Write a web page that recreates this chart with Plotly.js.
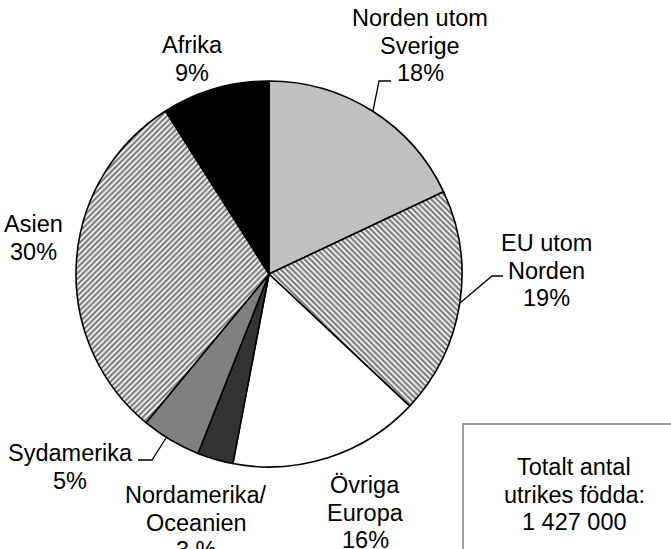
<!DOCTYPE html>
<html>
<head>
<meta charset="utf-8">
<script src="https://cdn.plot.ly/plotly-3.0.1.min.js"></script>
<style>html,body{margin:0;padding:0;background:#fff;}#chart{width:671px;height:549px;}</style>
</head>
<body>
<div id="chart"></div>
<script>
// ---- data ----
const categories = ["Norden utom Sverige", "EU utom Norden", "Övriga Europa", "Nordamerika/Oceanien", "Sydamerika", "Asien", "Afrika"];
const shares = [18, 19, 16, 3, 5, 30, 9];
const labelLines = [["Norden utom", "Sverige"], ["EU utom", "Norden"], ["Övriga", "Europa"], ["Nordamerika/", "Oceanien"], ["Sydamerika"], ["Asien"], ["Afrika"]];
const pctLabels = ["18%", "19%", "16%", "3 %", "5%", "30%", "9%"];
const totalLines = ["Totalt antal", "utrikes födda:", "1 427 000"];

// ---- style ----
const W = 671, H = 549;
const fills = ["#c0c0c0", "#ffffff", "#ffffff", "#333333", "#808080", "#ffffff", "#000000"];
const shapesPat = ["", "\\", "", "", "", "/", ""];
const FONT = "Liberation Sans, Arial, sans-serif";
const FS = 23.5;
const LINE = 27.5;
const cx = 269, cy = 274, R = 193;

const px = x => x / W;
const py = y => 1 - y / H;

// label anchor positions (center of first line), pixels
const labelPos = [[420, 18], [546, 243], [365, 485], [196, 495], [70, 453], [33, 224], [192, 45]];

const annotations = [];
function addLines(lines, x, y0) {
  lines.forEach((t, k) => {
    annotations.push({
      text: t, x: px(x), y: py(y0 + k * LINE), xref: "paper", yref: "paper",
      xanchor: "center", yanchor: "middle", showarrow: false,
      font: {family: FONT, size: FS, color: "#000"}
    });
  });
}
categories.forEach((c, i) => {
  addLines(labelLines[i].concat([pctLabels[i]]), labelPos[i][0], labelPos[i][1]);
});
addLines(totalLines, 574, 467);

function pathPx(pts) {
  return pts.map((p, k) => (k ? "L" : "M") + px(p[0]) + "," + py(p[1])).join(" ");
}
const leaderStyle = {color: "#000", width: 1.3};
const shapes = [
  {type: "path", xref: "paper", yref: "paper", path: pathPx([[391, 81], [379, 81], [373, 111]]), line: leaderStyle},
  {type: "path", xref: "paper", yref: "paper", path: pathPx([[503, 276], [492, 276], [460, 303]]), line: leaderStyle},
  {type: "path", xref: "paper", yref: "paper", path: pathPx([[138, 460], [152, 460], [166, 438]]), line: leaderStyle},
  {type: "rect", xref: "paper", yref: "paper", x0: px(463), y0: py(424), x1: px(685), y1: py(565),
   line: {color: "#808080", width: 1.5}, fillcolor: "rgba(0,0,0,0)"}
];

const trace = {
  type: "pie",
  labels: categories,
  values: shares,
  sort: false,
  direction: "clockwise",
  rotation: 0,
  textinfo: "none",
  hoverinfo: "label+percent",
  showlegend: false,
  domain: {x: [px(cx - R), px(cx + R)], y: [py(cy + R), py(cy - R)]},
  marker: {
    colors: fills,
    line: {color: "#000", width: 1.6},
    pattern: {shape: shapesPat, fgcolor: "#000", bgcolor: "#ffffff", size: 4, solidity: 0.6, fillmode: "overlay"}
  }
};

Plotly.newPlot("chart", [trace], {
  width: W, height: H,
  margin: {l: 0, r: 0, t: 0, b: 0},
  paper_bgcolor: "#fff",
  showlegend: false,
  annotations: annotations,
  shapes: shapes
}, {staticPlot: true});
</script>
</body>
</html>
